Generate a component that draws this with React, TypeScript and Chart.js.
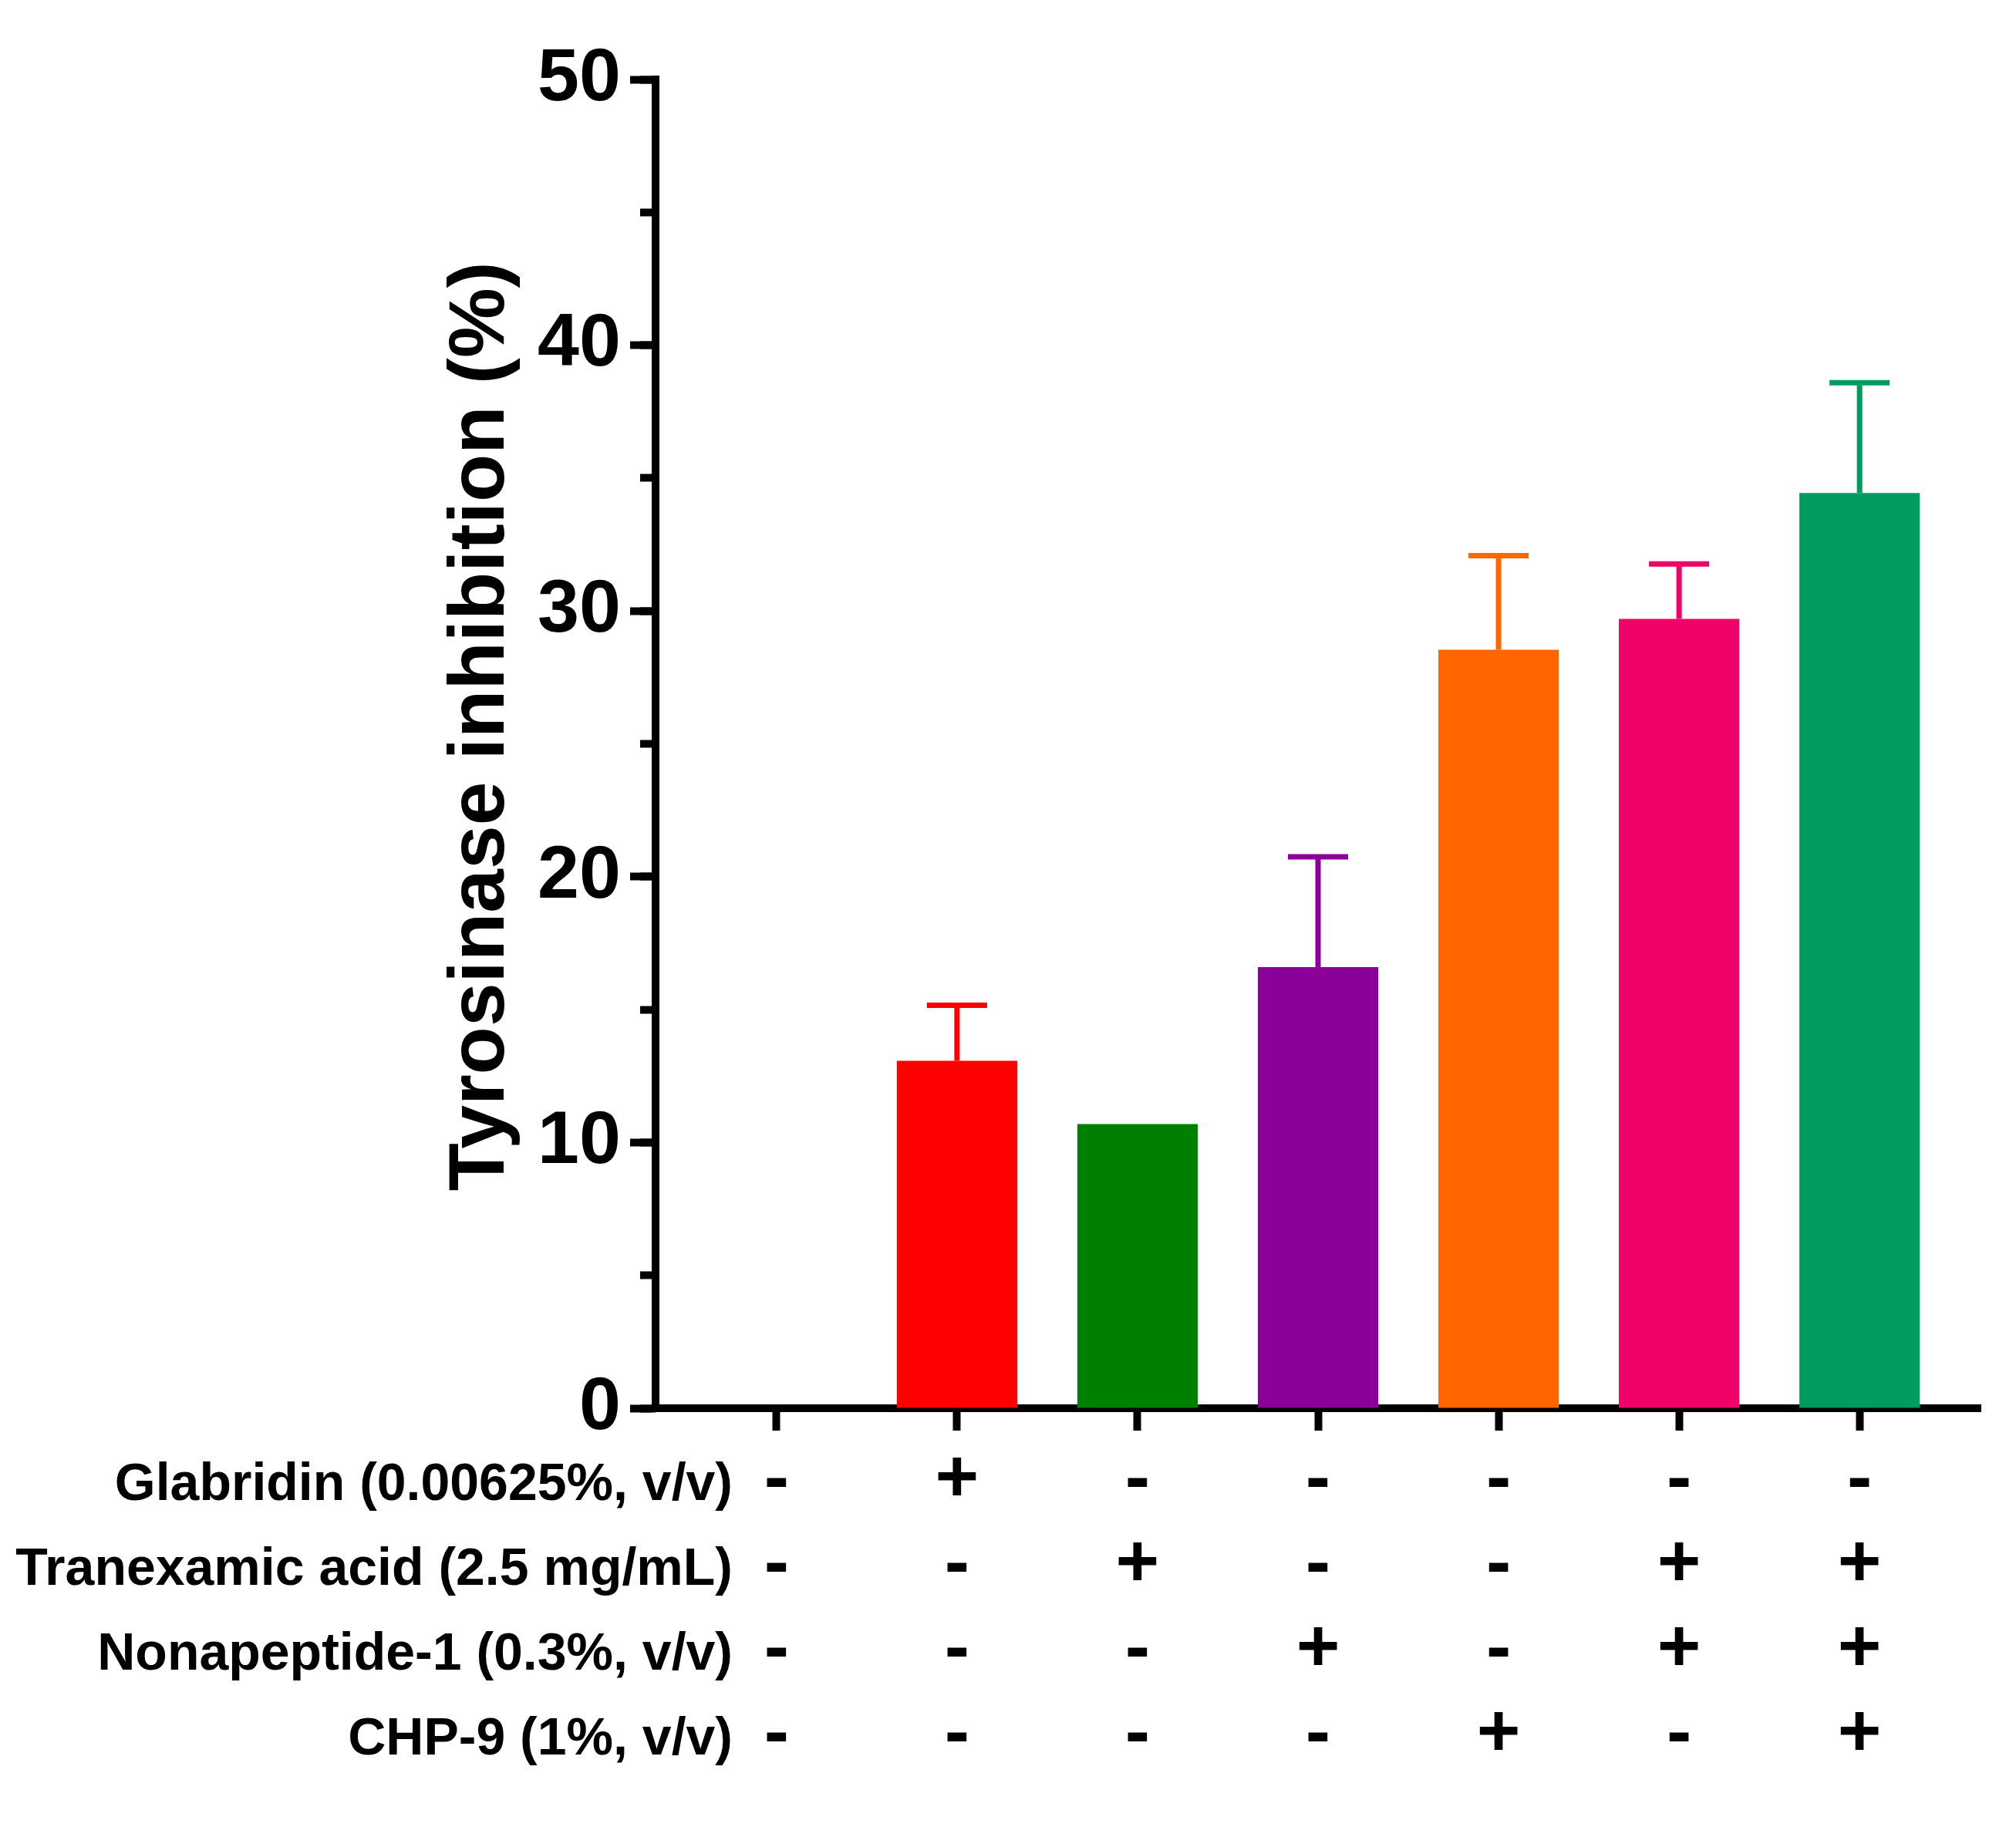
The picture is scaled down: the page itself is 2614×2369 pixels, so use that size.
import { useEffect, useRef } from "react";
import { Chart, registerables } from "chart.js";

Chart.register(...registerables);

const WIDTH = 2614;
const HEIGHT = 2369;
const FONT = "'Liberation Sans', Arial, sans-serif";

// one group per column, left to right; the first one is the untreated control
const groups = [0, 1, 2, 3, 4, 5, 6];
const inhibition = [0, 13.07, 10.69, 16.6, 28.54, 29.7, 34.44];
const sd = [0, 2.09, 0, 4.15, 3.54, 2.07, 4.15];
const barColors = ["#000000", "#FF0000", "#008000", "#8A0099", "#FF6600", "#F00368", "#009B5F"];

// treatment table under the x axis
const rowLabels = [
  "Glabridin (0.00625%, v/v)",
  "Tranexamic acid (2.5 mg/mL)",
  "Nonapeptide-1 (0.3%, v/v)",
  "CHP-9 (1%, v/v)",
];
const glabridin = ["-", "+", "-", "-", "-", "-", "-"];
const tranexamic = ["-", "-", "+", "-", "-", "+", "+"];
const nonapeptide = ["-", "-", "-", "+", "-", "+", "+"];
const chp9 = ["-", "-", "-", "-", "+", "-", "+"];

const yTitle = "Tyrosinase inhibition (%)";

/** Upper SD whiskers in the bar colour, drawn from each bar top. */
const errorBars = {
  id: "errorBars",
  afterDatasetsDraw(chart: Chart) {
    const { ctx } = chart;
    const yScale = chart.scales.y;
    const meta = chart.getDatasetMeta(0);
    ctx.save();
    ctx.lineWidth = 7;
    ctx.lineCap = "butt";
    meta.data.forEach((bar: any, i: number) => {
      if (!sd[i]) return;
      const top = yScale.getPixelForValue(inhibition[i] + sd[i]);
      ctx.strokeStyle = barColors[i];
      ctx.beginPath();
      ctx.moveTo(bar.x, bar.y);
      ctx.lineTo(bar.x, top);
      ctx.moveTo(bar.x - 39, top);
      ctx.lineTo(bar.x + 39, top);
      ctx.stroke();
    });
    ctx.restore();
  },
};

/** Rotated y title and the row names of the treatment table. */
const labels = {
  id: "labels",
  afterDraw(chart: Chart) {
    const { ctx, chartArea } = chart;
    ctx.save();
    ctx.fillStyle = "#000";
    ctx.textBaseline = "middle";

    ctx.save();
    ctx.translate(625, 942);
    ctx.rotate(-Math.PI / 2);
    ctx.textAlign = "center";
    ctx.font = `bold 102px ${FONT}`;
    ctx.fillText(yTitle, 0, 0);
    ctx.restore();

    ctx.font = `bold 68px ${FONT}`;
    ctx.textAlign = "right";
    rowLabels.forEach((label, i) => {
      ctx.fillText(label, 950, chartArea.bottom + 100 + i * 110);
    });
    ctx.restore();
  },
};

export default function App() {
  const canvasRef = useRef<HTMLCanvasElement>(null);

  useEffect(() => {
    const canvas = canvasRef.current;
    if (!canvas) return;
    const chart = new Chart(canvas, {
      type: "bar",
      data: {
        datasets: [
          {
            data: groups.map((g, i) => ({ x: g, y: inhibition[i] })),
            backgroundColor: barColors,
            borderWidth: 0,
            categoryPercentage: 0.667,
            barPercentage: 1,
          },
        ],
      },
      options: {
        responsive: false,
        devicePixelRatio: 1,
        animation: false,
        layout: { padding: { top: 103, right: 46, left: 0, bottom: 0 } },
        plugins: { legend: { display: false }, tooltip: { enabled: false } },
        scales: {
          x: {
            type: "linear",
            min: -0.67,
            max: 6.67,
            offset: false,
            grid: {
              offset: false,
              drawOnChartArea: false,
              tickLength: 29,
              tickWidth: 10,
              tickColor: "#000",
            },
            border: { color: "#000", width: 10 },
            ticks: {
              stepSize: 1,
              includeBounds: false,
              autoSkip: false,
              maxRotation: 0,
              padding: 10,
              color: "#000",
              font: { family: FONT, size: 97, weight: "bold", lineHeight: "110px" },
              callback: (v: any) => {
                const i = Number(v);
                return [glabridin[i], tranexamic[i], nonapeptide[i], chp9[i]];
              },
            },
            afterFit: (scale: any) => {
              scale.height = HEIGHT - 1826;
            },
          },
          y: {
            min: 0,
            max: 50,
            weight: 2,
            grid: {
              drawOnChartArea: false,
              tickLength: 33,
              tickWidth: 10,
              tickColor: "#000",
            },
            border: { color: "#000", width: 10 },
            ticks: {
              stepSize: 10,
              padding: 12,
              color: "#000",
              font: { family: FONT, size: 97, weight: "bold" },
            },
            afterFit: (scale: any) => {
              scale.width = 850;
            },
          },
          yMinor: {
            position: "left",
            min: 0,
            max: 50,
            weight: 0,
            grid: {
              drawOnChartArea: false,
              tickLength: 20,
              tickWidth: 10,
              tickColor: "#000",
            },
            border: { display: false },
            ticks: { stepSize: 5, display: false },
            afterFit: (scale: any) => {
              scale.width = 0;
            },
          },
        },
      } as any,
      plugins: [errorBars, labels],
    });
    return () => chart.destroy();
  }, []);

  return (
    <div style={{ position: "absolute", left: 0, top: 0, width: WIDTH, height: HEIGHT, background: "#fff" }}>
      <canvas ref={canvasRef} width={WIDTH} height={HEIGHT} style={{ display: "block" }} />
    </div>
  );
}
